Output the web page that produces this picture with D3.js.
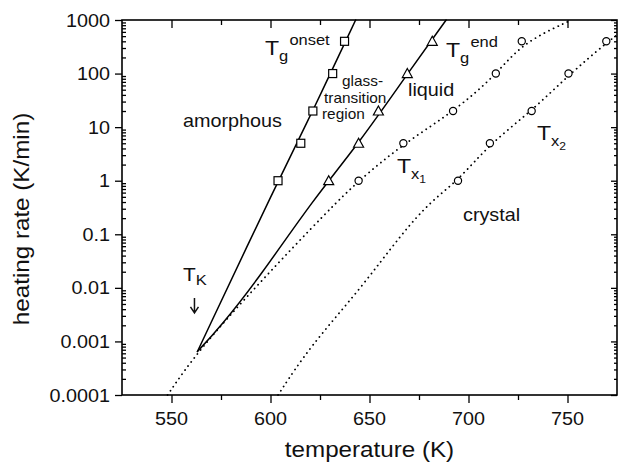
<!DOCTYPE html>
<html>
<head>
<meta charset="utf-8">
<script src="https://cdn.jsdelivr.net/npm/d3@7"></script>
<style>
  body { margin: 0; background: #fff; }
  svg { display: block; font-family: 'Liberation Sans', Arial, sans-serif; }
  .axis path { display: none; }
  .axis line { stroke: #000; stroke-width: 1.3; }
</style>
</head>
<body>
<div id="chart"></div>
<script>
// heating rates (K/min) of the measured points
var rates = [1, 5, 20, 100, 400]
// measured temperatures (K)
var onsetT = [603.8, 615.3, 621.4, 631.4, 637.4]
var endT = [629.4, 644.5, 654.5, 669.1, 681.7]
var tx1T = [644.5, 667.1, 692.2, 713.8, 726.9]
var tx2T = [694.7, 710.8, 731.9, 750.5, 769.6]

// fitted curves
var onsetFitT = [563.1, 603.8, 621.4, 643.0]
var onsetFitR = [0.00065, 1, 20, 1000]
var endFitT = [563.1, 574.6, 594.7, 621.4, 644.5, 669.1, 688.7]
var endFitR = [0.00065, 0.00186, 0.0162, 0.436, 4.9, 98, 1000]
var tx1FitT = [548, 563.1, 594.7, 630, 644.5, 667.1, 692.2, 713.8, 726.9, 752]
var tx1FitR = [0.0001, 0.00065, 0.0129, 0.3, 1, 4.9, 19, 93, 372, 1000]
var tx2FitT = [603.8, 619.8, 645, 666.6, 681.7, 694.7, 710.8, 731.9, 750.5, 769.6, 775]
var tx2FitR = [0.0001, 0.000794, 0.00912, 0.107, 0.437, 1, 4.9, 20, 93, 372, 525]

// axis ticks
var xMajor = [550, 600, 650, 700, 750]
var xMinor = [575, 625, 675, 725]
var yMajor = [0.0001, 0.001, 0.01, 0.1, 1, 10, 100, 1000]
var yLabels = ['0.0001', '0.001', '0.01', '0.1', '1', '10', '100', '1000']

var width = 621
var height = 467
var margin = { top: 20, right: 4, bottom: 72, left: 122 }

var svg = d3
  .select('#chart')
  .append('svg')
  .attr('width', width)
  .attr('height', height)

var x = d3.scaleLinear().domain([525, 775]).range([margin.left, width - margin.right])
var y = d3.scaleLog().domain([0.0001, 1000]).range([height - margin.bottom, margin.top])

var yMinor = []
yMajor.slice(0, -1).forEach(d => {
  for (var k = 2; k <= 9; k++) yMinor.push(d * k)
})

// stretched text, the original lettering is a bit wide
function label (g, px, py, size, anchor) {
  return g
    .append('text')
    .attr('transform', 'translate(' + px + ',' + py + ') scale(1.1,1)')
    .attr('font-size', size)
    .attr('text-anchor', anchor || 'start')
    .attr('fill', '#111')
}

// ticks
var x0 = x.range()[0]
var x1 = x.range()[1]
var y0 = y.range()[0]
var y1 = y.range()[1]

svg.append('g').attr('class', 'axis').attr('transform', 'translate(0,' + y0 + ')')
  .call(d3.axisBottom(x).tickValues(xMajor).tickSize(8).tickFormat(''))
svg.append('g').attr('class', 'axis').attr('transform', 'translate(0,' + y0 + ')')
  .call(d3.axisBottom(x).tickValues(xMinor).tickSize(5).tickFormat(''))
svg.append('g').attr('class', 'axis').attr('transform', 'translate(0,' + y1 + ')')
  .call(d3.axisBottom(x).tickValues(xMajor).tickSize(8).tickFormat(''))
svg.append('g').attr('class', 'axis').attr('transform', 'translate(0,' + y1 + ')')
  .call(d3.axisBottom(x).tickValues(xMinor).tickSize(5).tickFormat(''))

svg.append('g').attr('class', 'axis').attr('transform', 'translate(' + x0 + ',0)')
  .call(d3.axisLeft(y).tickValues(yMajor).tickSize(7).tickFormat(''))
svg.append('g').attr('class', 'axis').attr('transform', 'translate(' + x0 + ',0)')
  .call(d3.axisRight(y).tickValues(yMinor).tickSize(4).tickFormat(''))
svg.append('g').attr('class', 'axis').attr('transform', 'translate(' + x1 + ',0)')
  .call(d3.axisLeft(y).tickValues(yMajor).tickSize(6).tickFormat(''))
svg.append('g').attr('class', 'axis').attr('transform', 'translate(' + x1 + ',0)')
  .call(d3.axisLeft(y).tickValues(yMinor).tickSize(3).tickFormat(''))

// frame
svg.append('rect')
  .attr('x', x0).attr('y', y1)
  .attr('width', x1 - x0).attr('height', y0 - y1)
  .attr('fill', 'none').attr('stroke', '#000').attr('stroke-width', 1.6)

// tick labels
xMajor.forEach(d => {
  label(svg, x(d), y0 + 30, 18, 'middle').text(d)
})
yMajor.forEach((d, i) => {
  label(svg, x0 - 12, y(d) + 6.5, 18, 'end').text(yLabels[i])
})

// axis titles
label(svg, (x0 + x1) / 2, 457, 22, 'middle').text('temperature (K)')
svg.append('text')
  .attr('transform', 'translate(29,219) rotate(-90) scale(1.1,1)')
  .attr('font-size', 22)
  .attr('text-anchor', 'middle')
  .attr('fill', '#111')
  .text('heating rate (K/min)')

// fitted lines
var line = d3.line().x(d => x(d[0])).y(d => y(d[1])).curve(d3.curveBasis)
function fit (ts, rs, dotted) {
  svg.append('path')
    .datum(ts.map((t, i) => [t, rs[i]]))
    .attr('d', line)
    .attr('fill', 'none')
    .attr('stroke', '#000')
    .attr('stroke-width', dotted ? 1.8 : 1.5)
    .attr('stroke-linecap', 'round')
    .attr('stroke-dasharray', dotted ? '0.1 5' : null)
}
fit(onsetFitT, onsetFitR, false)
fit(endFitT, endFitR, false)
fit(tx1FitT, tx1FitR, true)
fit(tx2FitT, tx2FitR, true)

// markers
var sym = svg.append('g').attr('fill', '#fff').attr('stroke', '#000').attr('stroke-width', 1.2)
onsetT.forEach((t, i) => {
  sym.append('rect')
    .attr('x', x(t) - 4).attr('y', y(rates[i]) - 4)
    .attr('width', 8).attr('height', 8)
})
endT.forEach((t, i) => {
  sym.append('path')
    .attr('transform', 'translate(' + x(t) + ',' + y(rates[i]) + ')')
    .attr('d', 'M0,-5L5,4L-5,4Z')
})
tx1T.concat(tx2T).forEach((t, i) => {
  sym.append('circle')
    .attr('cx', x(t)).attr('cy', y(rates[i % 5]))
    .attr('r', 3.6)
})

// annotations
function sub (g, px, py, main, subText, supText, sub2) {
  var t = label(g, px, py, 21)
  t.append('tspan').text(main)
  t.append('tspan').attr('font-size', 15).attr('dy', 6).text(subText)
  if (sub2) t.append('tspan').attr('font-size', 11).attr('dy', 4).text(sub2)
  if (supText) t.append('tspan').attr('font-size', 15).attr('dy', -16).attr('dx', 1).text(supText)
  return t
}
sub(svg, 265, 55, 'T', 'g', 'onset')
sub(svg, 446, 57, 'T', 'g', 'end')
sub(svg, 397, 173, 'T', 'x', null, '1')
sub(svg, 537, 140, 'T', 'x', null, '2')

var tk = label(svg, 183, 281, 19)
tk.append('tspan').text('T')
tk.append('tspan').attr('font-size', 15).attr('dy', 4).text('K')

// arrow to T_K
var ax = x(561.6)
var ya = y(0.0065)
var yb = y(0.0034)
svg.append('path')
  .attr('d', 'M' + ax + ',' + ya + 'V' + yb +
    'M' + (ax - 4) + ',' + (yb - 6) + 'L' + ax + ',' + yb + 'L' + (ax + 4) + ',' + (yb - 6))
  .attr('fill', 'none').attr('stroke', '#111').attr('stroke-width', 1.5)

label(svg, 183, 127, 18).text('amorphous')
label(svg, 408, 96, 18).text('liquid')
label(svg, 463, 221, 18).text('crystal')

var gt = [['glass-', 342, 86], ['transition', 324, 103], ['region', 322, 119]]
gt.forEach(d => {
  label(svg, d[1], d[2], 14).text(d[0])
})
</script>
</body>
</html>
